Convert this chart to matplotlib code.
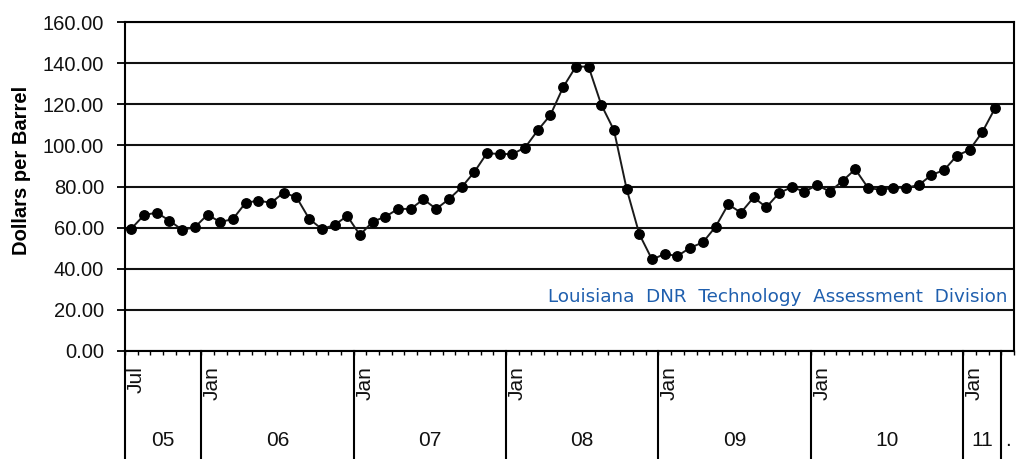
import numpy as np
import matplotlib.pyplot as plt
from matplotlib import transforms

plt.rcParams['font.family'] = ['Liberation Sans', 'DejaVu Sans']

# monthly price, Jul 2005 .. Mar 2011
prices_2005 = [59.5, 66.1, 67.3, 63.4, 58.9, 60.2]
prices_2006 = [66.3, 62.7, 64.2, 72.1, 73.1, 72.1, 77.0, 74.8, 64.3, 59.3, 61.3, 65.7]
prices_2007 = [56.4, 62.9, 65.3, 69.1, 69.1, 73.8, 69.1, 73.8, 79.6, 87.0, 96.2, 95.8]
prices_2008 = [95.8, 98.9, 107.3, 114.8, 128.3, 138.3, 138.3, 119.8, 107.4, 78.8, 56.8, 44.5]
prices_2009 = [47.2, 46.2, 50.2, 52.8, 60.4, 71.3, 67.3, 74.7, 69.9, 76.8, 79.7, 77.5]
prices_2010 = [80.7, 77.5, 82.7, 88.4, 79.4, 78.3, 79.4, 79.4, 80.7, 85.6, 88.0, 95.0]
prices_2011 = [97.8, 106.4, 118.0]

year_labels = ['05', '06', '07', '08', '09', '10', '11', '.']
months_per_year = [6, 12, 12, 12, 12, 12, 3, 1]   # last group is Apr 2011, no data
first_month_labels = ['Jul', 'Jan', 'Jan', 'Jan', 'Jan', 'Jan', 'Jan', '']
y_ticks = [0, 20, 40, 60, 80, 100, 120, 140, 160]

prices = (prices_2005 + prices_2006 + prices_2007 + prices_2008
          + prices_2009 + prices_2010 + prices_2011)
n_months = sum(months_per_year)
x = np.arange(len(prices)) + 0.5

fig = plt.figure(figsize=(10.19, 4.59), dpi=100)
ax = fig.add_axes([125 / 1019, 108 / 459, 889 / 1019, 329 / 459])

ax.set_xlim(0, n_months)
ax.set_ylim(0, 160)
ax.set_yticks(y_ticks)
ax.set_yticklabels([f'{v:.2f}' for v in y_ticks])
ax.yaxis.grid(True, color='#111111', lw=1.5)
ax.set_axisbelow(True)

ax.plot(x, prices, color='#1a1a1a', lw=1.4, marker='o', ms=6.8,
        mfc='black', mec='black', zorder=3)

for s in ax.spines.values():
    s.set_color('black')
    s.set_linewidth(1.5)

ax.tick_params(axis='y', length=6, width=1.4, pad=9, labelsize=14.5, colors='#111111')
ax.set_xticks([])
ax.set_xticks(np.arange(n_months + 1), minor=True)
ax.tick_params(axis='x', which='minor', length=3, width=1.0, direction='out')
ax.tick_params(axis='x', which='major', labelbottom=False)

# category axis: year dividers, first-month labels, year labels
trans = transforms.blended_transform_factory(ax.transData, ax.transAxes)
start = 0
for lab, n, mlab in zip(year_labels, months_per_year, first_month_labels):
    ax.plot([start, start], [0, -0.4], transform=trans, color='black',
            lw=1.5, clip_on=False)
    if mlab:
        ax.text(start + 0.12, -0.045, mlab, transform=trans, rotation=90,
                ha='left', va='top', fontsize=15, color='#111111')
    ax.text(start + n / 2, -0.272, lab, transform=trans, ha='center',
            va='center', fontsize=15, color='#111111')
    start += n

fig.text(22 / 1019, 1 - 170 / 459, 'Dollars per Barrel', rotation=90,
         ha='center', va='center', fontsize=14.5, fontweight='bold')

ax.text(69.5, 26.3, 'Louisiana  DNR  Technology  Assessment  Division',
        ha='right', va='center', fontsize=13.2, color='#1f5fae',
        family='DejaVu Sans')

fig.savefig('out.png', dpi=100)
